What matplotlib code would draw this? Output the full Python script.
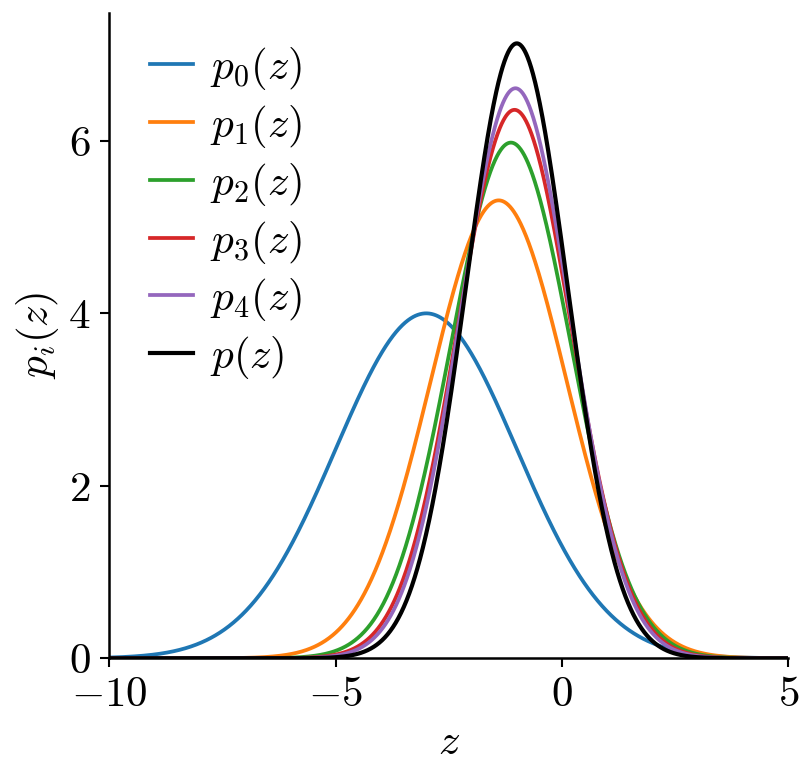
import numpy as np
import matplotlib
matplotlib.use("Agg")
import matplotlib.pyplot as plt

plt.rcParams['mathtext.fontset'] = 'cm'
plt.rcParams['font.family'] = 'serif'
plt.rcParams['font.serif'] = ['cmr10', 'DejaVu Serif']
plt.rcParams['axes.formatter.use_mathtext'] = True

# Curve data (Gaussian-shaped densities)
labels = [r'$p_0(z)$', r'$p_1(z)$', r'$p_2(z)$', r'$p_3(z)$', r'$p_4(z)$', r'$p(z)$']
means = [-3.0, -1.40, -1.13, -1.05, -1.03, -1.00]
peaks = [4.00, 5.31, 5.98, 6.36, 6.61, 7.13]
sds = [2.00, 1.50, 1.33, 1.25, 1.21, 1.12]
colors = ['#1f77b4', '#ff7f0e', '#2ca02c', '#d62728', '#9467bd', 'black']

x_ticks = [-10, -5, 0, 5]
y_ticks = [0, 2, 4, 6]

fig = plt.figure(figsize=(8.08, 7.73), dpi=100)
ax = fig.add_axes([0.1353, 0.1484, 0.8405, 0.8352])

z = np.linspace(-10, 5, 1500)
for lab, m, pk, s, c in zip(labels, means, peaks, sds, colors):
    lw = 3.0 if c == 'black' else 2.7
    ax.plot(z, pk * np.exp(-0.5 * ((z - m) / s) ** 2), color=c, lw=lw, label=lab)

FS = 31
ax.set_xlim(-10, 5)
ax.set_ylim(0, max(peaks) * 1.05)
ax.set_xticks(x_ticks)
ax.set_yticks(y_ticks)
ax.spines['top'].set_visible(False)
ax.spines['right'].set_visible(False)
for sp in ['left', 'bottom']:
    ax.spines[sp].set_linewidth(1.8)
ax.tick_params(axis='both', which='major', labelsize=FS, length=6.5, width=1.5, pad=7)
ax.set_xlabel(r'$z$', fontsize=FS, labelpad=7)
ax.set_ylabel(r'$p_i(z)$', fontsize=FS, labelpad=5)

ax.legend(loc='upper left', frameon=False, fontsize=FS, handlelength=1.0,
          handletextpad=0.4, labelspacing=0.25, borderaxespad=0.3,
          bbox_to_anchor=(0.015, 0.996))

fig.savefig('out.png', dpi=100)
